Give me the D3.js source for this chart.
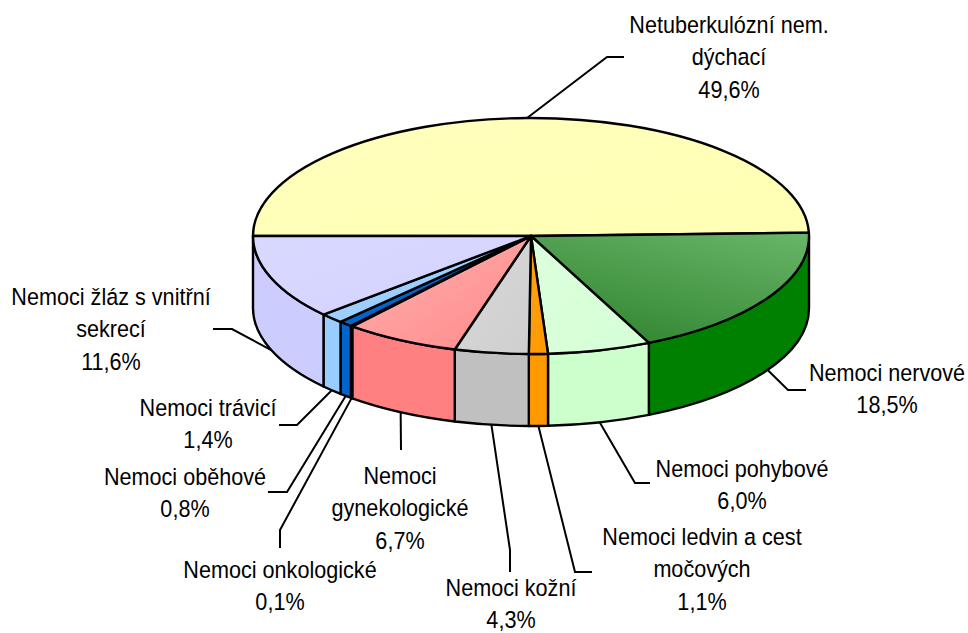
<!DOCTYPE html>
<html>
<head>
<meta charset="utf-8">
<script src="https://cdn.jsdelivr.net/npm/d3@7"></script>
<style>
  html, body { margin: 0; padding: 0; background: #fff; overflow: hidden; }
  text { font-family: "Liberation Sans", Arial, sans-serif; font-size: 23.5px; fill: #000; }
</style>
</head>
<body>
<div id="chart"></div>
<script>
// values, clockwise from the back of the pie
const categories = [
  "Netuberkulózní nem. dýchací", "Nemoci nervové", "Nemoci pohybové",
  "Nemoci ledvin a cest močových", "Nemoci kožní", "Nemoci gynekologické",
  "Nemoci onkologické", "Nemoci oběhové", "Nemoci trávicí",
  "Nemoci žláz s vnitřní sekrecí"
];
const values = [49.6, 18.5, 6.0, 1.1, 4.3, 6.7, 0.1, 0.8, 1.4, 11.6];
const valueLabels = ["49,6%", "18,5%", "6,0%", "1,1%", "4,3%", "6,7%", "0,1%", "0,8%", "1,4%", "11,6%"];
const labelLines = [
  ["Netuberkulózní nem.", "dýchací"], ["Nemoci nervové"], ["Nemoci pohybové"],
  ["Nemoci ledvin a cest", "močových"], ["Nemoci kožní"], ["Nemoci", "gynekologické"],
  ["Nemoci onkologické"], ["Nemoci oběhové"], ["Nemoci trávicí"],
  ["Nemoci žláz s vnitřní", "sekrecí"]
];

const sideColors = ["#ffffb8", "#008000", "#ccffcc", "#ff9900", "#c0c0c0", "#ff8080", "#660000", "#0066cc", "#99ccff", "#ccccff"];
const topFrom = ["#ffffbe", "#69b569", "#dcffdc", "#ffa011", "#d8d8d8", "#ffb0b0", "#660000", "#0066cc", "#a2d0ff", "#d9d9ff"];
const topTo = ["#ffffb4", "#358835", "#d6ffd6", "#ff9900", "#cfcfcf", "#ff8a8a", "#660000", "#0066cc", "#99ccff", "#d2d2ff"];

// label placement: text centre, first baseline, then leader elbow points
const labelX = [729, 887, 742, 702, 511, 400, 280, 185, 208, 111];
const labelY = [33, 381, 477, 545, 595.5, 484, 578, 485, 416, 305];
const elbows = [
  [[607, 57], [624, 57]],
  [[788, 390], [806, 390]],
  [[635, 483], [650, 483]],
  [[575, 572], [592, 572]],
  [[510, 550], [510, 572]],
  [[401, 450]],
  [[280, 530], [280, 548]],
  [[287, 492], [268, 492]],
  [[297, 425], [279, 425]],
  [[232, 329], [213, 329]]
];

const width = 968, height = 633;
const depth = 72;
const lineHeight = 32.5;
const startDeg = -90;

const x = d3.scaleLinear().domain([-1, 1]).range([253, 809]);
const y = d3.scaleLinear().domain([-1, 1]).range([118, 354]);

const svg = d3.select("#chart").append("svg")
  .attr("width", width)
  .attr("height", height)
  .style("display", "block");

const pie = d3.pie().sort(null)
  .startAngle(startDeg * Math.PI / 180)
  .endAngle((startDeg + 360) * Math.PI / 180);
const slices = pie(values);

function px(a) { return x(Math.sin(a)); }
function py(a) { return y(-Math.cos(a)); }

const rx = x(1) - x(0), ry = y(1) - y(0);

function topPath(d) {
  const large = d.endAngle - d.startAngle > Math.PI ? 1 : 0;
  return "M" + x(0) + "," + y(0)
    + "L" + px(d.startAngle) + "," + py(d.startAngle)
    + "A" + rx + "," + ry + " 0 " + large + " 1 " + px(d.endAngle) + "," + py(d.endAngle) + "Z";
}

// only the front half of the rim is visible
function sidePath(d) {
  const a0 = Math.max(d.startAngle, Math.PI / 2);
  const a1 = Math.min(d.endAngle, Math.PI * 3 / 2);
  if (a1 <= a0) return null;
  return "M" + px(a0) + "," + py(a0)
    + "A" + rx + "," + ry + " 0 0 1 " + px(a1) + "," + py(a1)
    + "L" + px(a1) + "," + (py(a1) + depth)
    + "A" + rx + "," + ry + " 0 0 0 " + px(a0) + "," + (py(a0) + depth) + "Z";
}

// gradients for the top faces
const defs = svg.append("defs");
const grads = defs.selectAll("linearGradient")
  .data(slices)
  .enter().append("linearGradient")
    .attr("id", function(d, i) { return "top" + i; })
    .attr("x1", function(d, i) { return i == 1 ? 1 : 0; })
    .attr("y1", 0)
    .attr("x2", function(d, i) { return i == 1 ? 0.4 : 1; })
    .attr("y2", 1);
grads.append("stop").attr("offset", "0%").attr("stop-color", function(d, i) { return topFrom[i]; });
grads.append("stop").attr("offset", "100%").attr("stop-color", function(d, i) { return topTo[i]; });

// leader lines go under the pie
const line = d3.line();
svg.append("g").selectAll("path")
  .data(slices)
  .enter().append("path")
    .attr("fill", "none")
    .attr("stroke", "#000")
    .attr("stroke-width", 2)
    .attr("d", function(d, i) {
      const mid = (d.startAngle + d.endAngle) / 2;
      const front = Math.cos(mid) < 0;
      const start = [px(mid), py(mid) + (front ? depth : 0)];
      return line([start].concat(elbows[i]));
    });

svg.append("g").selectAll("path")
  .data(slices)
  .enter().append("path")
    .attr("d", sidePath)
    .attr("fill", function(d, i) { return sideColors[i]; })
    .attr("stroke", "#000")
    .attr("stroke-width", 2.4)
    .attr("stroke-linejoin", "round");

svg.append("g").selectAll("path")
  .data(slices)
  .enter().append("path")
    .attr("d", topPath)
    .attr("fill", function(d, i) { return "url(#top" + i + ")"; })
    .attr("stroke", "#000")
    .attr("stroke-width", 2.4)
    .attr("stroke-linejoin", "round");

// labels, squeezed a little to match the narrow original lettering
const labels = svg.append("g").selectAll("g")
  .data(categories)
  .enter().append("g")
    .attr("transform", function(d, i) { return "translate(" + labelX[i] + "," + labelY[i] + ") scale(0.92,1)"; });

labels.selectAll("text")
  .data(function(d, i) { return labelLines[i].concat(valueLabels[i]); })
  .enter().append("text")
    .attr("text-anchor", "middle")
    .attr("y", function(d, i) { return i * lineHeight; })
    .text(function(d) { return d; });
</script>
</body>
</html>
